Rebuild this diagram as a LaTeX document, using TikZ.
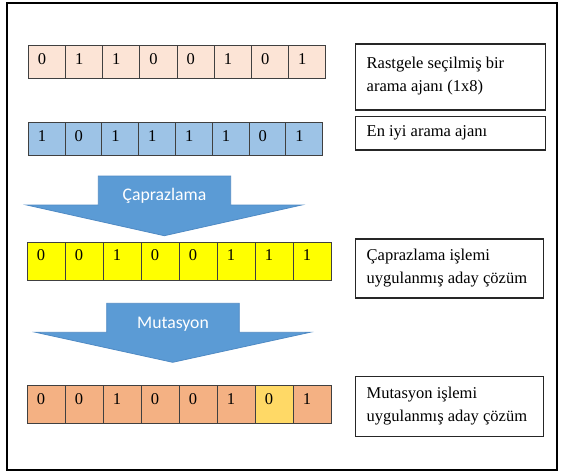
\documentclass[tikz,border=0pt]{standalone}
\usepackage{fontspec}
\setmainfont{Liberation Serif}
\newfontfamily\tnr{Liberation Serif}
\newfontfamily\arrowfont{Carlito}
\definecolor{peach}{HTML}{FCE4D6}
\definecolor{lblue}{HTML}{9DC3E6}
\definecolor{ylw}{HTML}{FFFF00}
\definecolor{orng}{HTML}{F4B183}
\definecolor{gold}{HTML}{FFD966}
\definecolor{arrowfill}{HTML}{5B9BD5}
\definecolor{arrowedge}{HTML}{4F8AC4}
\definecolor{celledge}{HTML}{404040}
\begin{document}
\begin{tikzpicture}[x=1pt,y=-1pt,
  cellbox/.style={draw=celledge, line width=0.9pt, inner sep=0pt, minimum height=#1},
  digit/.style={anchor=base west, inner sep=0pt, font=\tnr\fontsize{16.5}{18}\selectfont},
  infobox/.style={draw=black!85, line width=1.2pt, inner sep=0pt, anchor=north west},
  infotext/.style={anchor=west, inner sep=0pt, align=left, font=\tnr\fontsize{16.5}{23}\selectfont},
  bigarrow/.style={fill=arrowfill, draw=arrowedge, line width=0.8pt, line join=miter},
  arrowlabel/.style={text=white, inner sep=0pt, font=\arrowfont\fontsize{17.7}{20}\selectfont}]
\useasboundingbox (0,0) rectangle (563,472);
\fill[white] (0,0) rectangle (563,472);
\node[draw=black, line width=2pt, inner sep=0pt, minimum width=550.5pt, minimum height=467pt, anchor=north west] (frame) at (5.5,2) {};

% row 1
\foreach \d [count=\i] in {0,1,1,0,0,1,0,1}{
  \node[cellbox=33pt, minimum width=37.2pt, fill=peach] (ra\i) at ({28.3+(\i-0.5)*37.2},61.5) {};
  \node[digit] (rad\i) at ({28.3+(\i-1)*37.2+9.3},64.1) {\d};
}
% row 2
\foreach \d [count=\i] in {1,0,1,1,1,1,0,1}{
  \node[cellbox=32.3pt, minimum width=36.8pt, fill=lblue] (rb\i) at ({28.3+(\i-0.5)*36.8},138.85) {};
  \node[digit] (rbd\i) at ({28.3+(\i-1)*36.8+9.3},141.8) {\d};
}
% row 3
\foreach \d [count=\i] in {0,0,1,0,0,1,1,1}{
  \node[cellbox=38pt, minimum width=38pt, fill=ylw] (rc\i) at ({27.3+(\i-0.5)*38},261.7) {};
  \node[digit] (rcd\i) at ({27.3+(\i-1)*38+9.3},260.6) {\d};
}
% row 4
\foreach \d/\c [count=\i] in {0/orng,0/orng,1/orng,0/orng,0/orng,1/orng,0/gold,1/orng}{
  \node[cellbox=37.6pt, minimum width=38pt, fill=\c] (rd\i) at ({27.3+(\i-0.5)*38},404.5) {};
  \node[digit] (rdd\i) at ({27.3+(\i-1)*38+9.3},404.0) {\d};
}

% arrows
\draw[bigarrow] (98.3,176) -- (230.7,176) -- (230.7,205) -- (301.7,205) -- (164.3,235.7) -- (26.7,205) -- (98.3,205) -- cycle;
\node[arrowlabel] (cross) at (164.5,196) {Çaprazlama};
\draw[bigarrow] (106.7,303.3) -- (239.3,303.3) -- (239.3,332.3) -- (310,332.3) -- (172.7,362.3) -- (35.7,332.3) -- (106.7,332.3) -- cycle;
\node[arrowlabel] (mut) at (173,324) {Mutasyon};

% info boxes
\node[infobox, minimum width=190pt, minimum height=66pt] (b1) at (355,43.3) {};
\node[infotext] (t1) at (366.5,76.3) {Rastgele seçilmiş bir\\arama ajanı (1x8)};
\node[infobox, minimum width=190pt, minimum height=33.3pt] (b2) at (355,116) {};
\node[infotext] (t2) at (366.5,132.7) {En iyi arama ajanı};
\node[infobox, minimum width=188pt, minimum height=59pt] (b3) at (355,238.3) {};
\node[infotext] (t3) at (366.5,267.8) {Çaprazlama işlemi\\uygulanmış aday çözüm};
\node[infobox, minimum width=188pt, minimum height=60pt] (b4) at (355,376) {};
\node[infotext] (t4) at (366.5,406) {Mutasyon işlemi\\uygulanmış aday çözüm};
\end{tikzpicture}
\end{document}
